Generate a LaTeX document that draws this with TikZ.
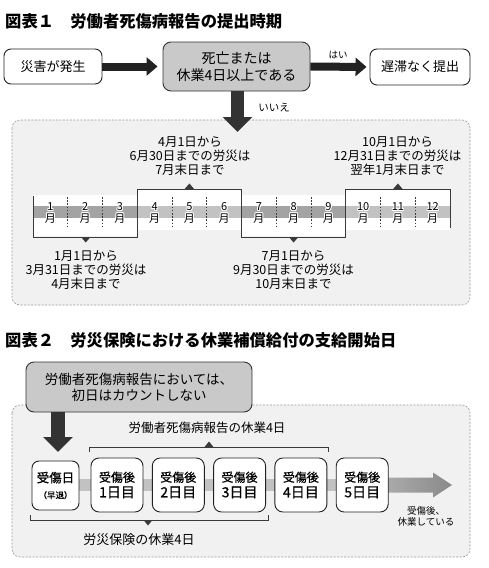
\documentclass[tikz,border=0pt]{standalone}
\usepackage{fontspec}
\setmainfont{Noto Sans CJK JP}
\newfontfamily\medfont{Noto Sans CJK JP}[FakeBold=0.8]
\usetikzlibrary{arrows.meta,calc}
\definecolor{boxgray}{HTML}{C9C9C9}
\definecolor{regionfill}{HTML}{F1F1F1}
\definecolor{regionline}{HTML}{9A9A9A}
\definecolor{arrowdark}{HTML}{333333}
\definecolor{arrowblack}{HTML}{222222}
\definecolor{stripedark}{HTML}{A3A3A3}
\definecolor{stripelight}{HTML}{C2C2C2}
\definecolor{linegray}{HTML}{3A3A3A}
\definecolor{arrowA}{HTML}{ABABAB}
\definecolor{arrowB}{HTML}{8A8A8A}
\newbox\halobox
\newcommand\haloshift[2]{\rlap{\kern#1\raise#2\hbox{\color{white}\copy\halobox}}}
\newcommand\halo[1]{\setbox\halobox\hbox{#1}%
  \haloshift{1pt}{0pt}\haloshift{-1pt}{0pt}\haloshift{0pt}{1pt}\haloshift{0pt}{-1pt}%
  \haloshift{0.7pt}{0.7pt}\haloshift{-0.7pt}{0.7pt}\haloshift{0.7pt}{-0.7pt}\haloshift{-0.7pt}{-0.7pt}%
  \hbox{\color{black}\copy\halobox}}
\tikzset{
  whitebox/.style={draw=arrowblack, line width=0.9pt, fill=white, rounded corners=7pt, align=center, inner sep=0pt},
  graybox/.style={draw=arrowdark, line width=0.9pt, fill=boxgray, rounded corners=8pt, align=center, inner sep=0pt},
  regionbox/.style={draw=regionline, dash pattern=on 2pt off 1.5pt, fill=regionfill, rounded corners=8pt, line width=0.6pt},
  bigarrow/.style={draw=arrowblack, line width=8pt, -{Triangle[length=11pt,width=18pt]}},
  downarrow/.style={draw=arrowdark, line width=13.5pt, -{Triangle[length=15pt,width=29pt]}},
  bracketline/.style={draw=linegray, line width=0.8pt},
  mlab/.style={inner sep=0pt, font=\fontsize{11}{10.5}\selectfont},
  note/.style={align=center, inner sep=0pt, font=\fontsize{12.5}{14}\selectfont},
  daystyle/.style={whitebox, minimum width=52pt, minimum height=54pt, rounded corners=8pt, font=\medfont\fontsize{12}{15.5}\selectfont},
}
\newcommand\daybox[3]{%
  \node[daystyle] (#1) at (#2,485) {受傷後\\{\fontsize{14}{15.5}\selectfont #3日目}};}
\begin{document}
\begin{tikzpicture}[x=1pt,y=-1pt]
\useasboundingbox (0,0) rectangle (488,568);
% ---------- regions ----------
\fill[white] (0,0) rectangle (488,568);
\draw[regionbox] (12,120) rectangle (470,305);
\draw[regionbox] (12,405) rectangle (470,557);
% ---------- figure 1 ----------
\node[anchor=west, inner sep=0pt, font=\fontsize{16.3}{18}\selectfont\bfseries] (t1) at (5,21.5) {図表１　労働者死傷病報告の提出時期};
\node[whitebox, minimum width=98pt, minimum height=35pt, font=\fontsize{13}{15}\selectfont] (b1) at (53,66.5) {災害が発生};
\node[graybox, minimum width=147pt, minimum height=49pt, font=\fontsize{14}{17}\selectfont] (b2) at (236.5,66.5) {死亡または\\休業4日以上である};
\node[whitebox, minimum width=100pt, minimum height=36pt, font=\fontsize{13}{15}\selectfont] (b3) at (420,67) {遅滞なく提出};
\draw[bigarrow, shorten >=5pt] (b1.east) -- (b2.west);
\draw[bigarrow, shorten >=3pt] (b2.east) -- (b3.west);
\node[inner sep=0pt, font=\fontsize{9.5}{11}\selectfont] (yes) at (338,55) {はい};
\coordinate (dtip1) at (237.5,132);
\draw[downarrow] (b2.south -| dtip1) -- (dtip1);
\node[inner sep=0pt, font=\fontsize{10.5}{12}\selectfont] (no) at (274,108) {いいえ};
% timeline
\fill[white] (33,195) rectangle (137.25,236);
\fill[white] (137.25,189) rectangle (241.5,230);
\fill[white] (241.5,195) rectangle (345.75,236);
\fill[white] (345.75,189) rectangle (450,230);
\fill[stripedark]  (33,206) rectangle (137.25,218);
\fill[stripelight] (137.25,206) rectangle (241.5,218);
\fill[stripedark]  (241.5,206) rectangle (345.75,218);
\fill[stripelight] (345.75,206) rectangle (450,218);
\foreach \i in {1,2,4,5,7,8,10,11}{
  \draw[linegray, line width=0.6pt, dash pattern=on 1.6pt off 1.6pt] (33+34.75*\i,197) -- (33+34.75*\i,228);}
\foreach \i in {0,3,6,9,12}{
  \draw[bracketline] (33+34.75*\i,196) -- (33+34.75*\i,228);}
% brackets
\draw[bracketline] (33,228) -- (33,237) -- (137.25,237) -- (137.25,228);
\draw[bracketline] (241.5,228) -- (241.5,237) -- (345.75,237) -- (345.75,228);
\draw[bracketline] (137.25,196) -- (137.25,189) -- (241.5,189) -- (241.5,196);
\draw[bracketline] (345.75,196) -- (345.75,189) -- (450,189) -- (450,196);
\fill[linegray] (81,237) -- (90.5,237) -- (85.75,242.5) -- cycle;
\fill[linegray] (288.9,237) -- (298.4,237) -- (293.6,242.5) -- cycle;
\fill[linegray] (184.6,189) -- (194.1,189) -- (189.4,183.5) -- cycle;
\fill[linegray] (393.1,189) -- (402.6,189) -- (397.9,183.5) -- cycle;
\foreach \i in {1,...,12}{
  \node[mlab] (m\i) at (33+34.75*\i-17.375,213) {\halo{\shortstack{\i\\月}}};}
\node[note] (q2) at (190,156) {4月1日から\\6月30日までの労災は\\7月末日まで};
\node[note] (q4) at (397.5,156) {10月1日から\\12月31日までの労災は\\翌年1月末日まで};
\node[note] (q1) at (86,270.5) {1月1日から\\3月31日までの労災は\\4月末日まで};
\node[note] (q3) at (293.5,270.5) {7月1日から\\9月30日までの労災は\\10月末日まで};
% ---------- figure 2 ----------
\node[anchor=west, inner sep=0pt, font=\fontsize{16.3}{18}\selectfont\bfseries] (t2) at (5,340) {図表２　労災保険における休業補償給付の支給開始日};
\node[graybox, minimum width=226pt, minimum height=50pt, font=\fontsize{13.5}{16}\selectfont] (g2) at (139,387) {労働者死傷病報告においては、\\初日はカウントしない};
\coordinate (dtip2) at (58,452);
\draw[downarrow, line width=14pt] (g2.south -| dtip2) -- (dtip2);
% stripe and arrow behind the day boxes
\coordinate (sstart) at (70,485);
\coordinate (astart) at (385,485);
\coordinate (ftip) at (452,485);
\fill[stripelight] ($(sstart)+(0,-6)$) rectangle ($(astart)+(0,6)$);
\shade[left color=arrowA, right color=arrowB]
  ($(astart)+(0,-7.5)$) -- ($(ftip)+(-19,-7.5)$) -- ($(ftip)+(-19,-12.5)$) -- (ftip)
  -- ($(ftip)+(-19,12.5)$) -- ($(ftip)+(-19,7.5)$) -- ($(astart)+(0,7.5)$) -- cycle;
\node[whitebox, minimum width=47pt, minimum height=49pt, rounded corners=7pt, font=\medfont\fontsize{12.5}{16}\selectfont] (d0) at (55.5,485.5)
  {受傷日\\{\fontsize{8.5}{16}\selectfont （早退）}};
\daybox{d1}{117}{1}
\daybox{d2}{178.3}{2}
\daybox{d3}{239.6}{3}
\daybox{d4}{300.9}{4}
\daybox{d5}{362.2}{5}
\node[inner sep=0pt, align=center, font=\fontsize{9.5}{11}\selectfont] (rest) at (426,516) {受傷後、\\休業している};
% brackets fig 2
\draw[bracketline] (89,452) -- (89,447) -- (328,447) -- (328,452);
\fill[linegray] (204.5,447) -- (213.5,447) -- (209,441.5) -- cycle;
\node[inner sep=0pt, font=\fontsize{12.5}{14}\selectfont] (top4) at (207,428) {労働者死傷病報告の休業4日};
\draw[bracketline] (30,515) -- (30,520) -- (268,520) -- (268,515);
\fill[linegray] (143.5,520) -- (152.5,520) -- (148,525.5) -- cycle;
\node[inner sep=0pt, font=\fontsize{13}{15}\selectfont] (bot4) at (139,540) {労災保険の休業4日};
\end{tikzpicture}
\end{document}
